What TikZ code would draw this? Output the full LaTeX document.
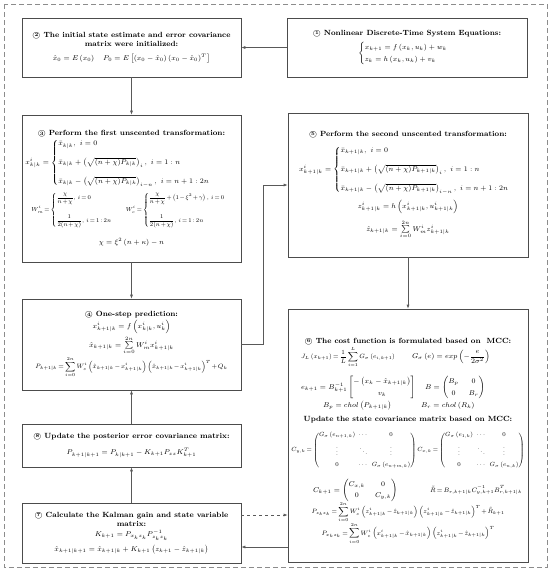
\documentclass[tikz,border=0pt]{standalone}
\usepackage{amsmath,amssymb,graphicx}
\usetikzlibrary{arrows.meta}
\relpenalty=10000
\binoppenalty=10000
\newcommand{\circno}[1]{\ooalign{\hfil\raisebox{0.25ex}{\fontsize{5}{5}\selectfont\bfseries#1}\hfil\crcr$\bigcirc$}}
\newcommand{\fitw}[2]{\resizebox{#1}{!}{\thickmuskip=3mu\medmuskip=2mu\setlength\arraycolsep{2pt}$\displaystyle #2$}}
\tikzset{stepbox/.style={draw=black!70,line width=0.6pt,align=flush center,inner sep=2pt,font=\fontsize{7.5}{9}\selectfont},
flow/.style={draw=black!65,line width=0.6pt,-{Latex[length=4pt,width=3pt]}}}
\begin{document}
\begin{tikzpicture}[x=1pt,y=-1pt]
\useasboundingbox (0,0) rectangle (550,579);
\draw[black!45,line width=0.8pt,dash pattern=on 5pt off 3pt] (4,4) rectangle (547,567);
% left column
\node[stepbox,text width=215pt,minimum height=59pt] (init) at (131.5,47.5){{\bfseries\circno{2} The initial state estimate and error covariance\\ matrix were initialized:}\\[5pt]
$\hat{x}_0 = E\left(x_0\right)\quad P_0 = E\left[\left(x_0-\hat{x}_0\right)\left(x_0-\hat{x}_0\right)^T\right]$};
\node[stepbox,text width=215pt,minimum height=147pt] (ut1) at (131.5,188.5){{\bfseries\circno{3} Perform the first unscented transformation:}\\[0pt]
\hspace*{-20pt}$x^i_{k|k} = \begin{cases}\bar{x}_{k|k},\ i=0\\[8pt] \bar{x}_{k|k}+\left(\sqrt{(n+\chi)P_{k|k}}\right)_i,\ i=1:n\\[8pt] \bar{x}_{k|k}-\left(\sqrt{(n+\chi)P_{k|k}}\right)_{i-n},\ i=n+1:2n\end{cases}$\\[4pt]
\fitw{200pt}{W^i_m = \begin{cases}\dfrac{\chi}{n+\chi},\,i=0\\[15pt] \dfrac{1}{2(n+\chi)},\,i=1:2n\end{cases}\quad W^i_c = \begin{cases}\dfrac{\chi}{n+\chi}+\left(1-\xi^2+\gamma\right),\,i=0\\[15pt] \dfrac{1}{2(n+\chi)},\,i=1:2n\end{cases}}\\[9pt]
$\chi = \xi^2\left(n+\kappa\right)-n$};
\node[stepbox,text width=215pt,minimum height=91pt] (pred) at (131.5,344.5){{\bfseries\circno{4} One-step prediction:}\\[1pt]
$x^i_{k+1|k} = f\left(x^i_{k|k},u^i_k\right)$\\[1pt]
$\hat{x}_{k+1|k} = \sum\limits_{i=0}^{2n} W^i_m x^i_{k+1|k}$\\[1pt]
\fitw{192pt}{P_{k+1|k} = \sum\limits_{i=0}^{2n} W^i_c\left(\hat{x}_{k+1|k}-x^i_{k+1|k}\right)\left(\hat{x}_{k+1|k}-x^i_{k+1|k}\right)^T+Q_k}};
\node[stepbox,text width=215pt,minimum height=43pt] (upd) at (131.5,445.5){{\bfseries\circno{8} Update the posterior error covariance matrix:}\\[7pt]
$P_{k+1|k+1} = P_{k|k+1}-K_{k+1}P_{zz}K^T_{k+1}$};
\node[stepbox,text width=215pt,minimum height=60pt] (gain) at (131.5,533){{\bfseries\circno{7} Calculate the Kalman gain and state variable\\ matrix:}\\[1pt]
$K_{k+1} = P_{x_kz_k}P^{-1}_{z_kz_k}$\\[4pt]
$\hat{x}_{k+1|k+1} = \hat{x}_{k+1|k}+K_{k+1}\left(z_{k+1}-\hat{z}_{k+1|k}\right)$};
% right column
\node[stepbox,text width=236pt,minimum height=59pt] (sys) at (407,47.5){{\bfseries\circno{1} Nonlinear Discrete-Time System Equations:}\\[4pt]
$\begin{cases}x_{k+1} = f\left(x_k,u_k\right)+w_k\\[1pt] z_k = h\left(x_k,u_k\right)+v_k\end{cases}$};
\node[stepbox,text width=236pt,minimum height=144pt] (ut2) at (408,185){{\bfseries\circno{5} Perform the second unscented transformation:}\\[6pt]
$x^i_{k+1|k} = \begin{cases}\bar{x}_{k+1|k},\ i=0\\[8pt] \bar{x}_{k+1|k}+\left(\sqrt{(n+\chi)P_{k+1|k}}\right)_i,\ i=1:n\\[8pt] \bar{x}_{k+1|k}-\left(\sqrt{(n+\chi)P_{k+1|k}}\right)_{i-n},\ i=n+1:2n\end{cases}$\\[5pt]
$z^i_{k+1|k} = h\left(x^i_{k+1|k},u^i_{k+1|k}\right)$\\[5pt]
$\hat{z}_{k+1|k} = \sum\limits_{i=0}^{2n} W^i_m z^i_{k+1|k}$};
\node[stepbox,minimum width=240pt,minimum height=253pt] (mcc) at (408,435.5){};
\node[stepbox,draw=none,text width=236pt,anchor=north] (mcctext) at ([yshift=-27pt]mcc.north){{\bfseries\circno{6} The cost function is formulated based on\ \ MCC:}\\[1pt]
\makebox[\linewidth][l]{\hspace{11pt}\makebox[111pt][l]{\fitw{94pt}{J_L\left(x_{k+1}\right) = \dfrac{1}{L}\sum\limits_{i=1}^{L} G_\sigma\left(e_{i,k+1}\right)}}$G_\sigma\left(e\right) = exp\left(-\dfrac{e}{2\sigma^2}\right)$}\\[8pt]
\makebox[\linewidth][l]{\hspace{11pt}\makebox[124pt][l]{$e_{k+1} = B^{-1}_{k+1}\begin{bmatrix}-\left(x_k-\hat{x}_{k+1|k}\right)\\[3pt] v_k\end{bmatrix}$}$B = \begin{pmatrix}B_p & 0\\[3pt] 0 & B_r\end{pmatrix}$}\\[1pt]
\makebox[\linewidth][l]{\hspace{33pt}\makebox[98pt][l]{$B_p = chol\left(P_{k+1|k}\right)$}$B_r = chol\left(R_k\right)$}\\[5pt]
{\bfseries Update the state covariance matrix based on MCC:}\\[8pt]
\fitw{233pt}{C_{y,k} = \begin{pmatrix}G_\sigma\left(e_{n+1,k}\right) & \cdots & 0\\[4pt] \vdots & \ddots & \vdots\\[4pt] 0 & \cdots & G_\sigma\left(e_{n+m,k}\right)\end{pmatrix}C_{x,k} = \begin{pmatrix}G_\sigma\left(e_{1,k}\right) & \cdots & 0\\[4pt] \vdots & \ddots & \vdots\\[4pt] 0 & \cdots & G_\sigma\left(e_{n,k}\right)\end{pmatrix}}\\[9pt]
\makebox[\linewidth][l]{\hspace{23pt}\makebox[117pt][l]{$C_{k+1} = \begin{pmatrix}C_{x,k} & 0\\[2pt] 0 & C_{y,k}\end{pmatrix}$}\fitw{92pt}{\tilde{R} = B_{r,k+1|k}C^{-1}_{y,k+1}B^T_{r,k+1|k}}}\\[-1pt]
\fitw{193pt}{P_{z_kz_k} = \sum\limits_{i=0}^{2n} W^i_c\left(z^i_{k+1|k}-\hat{z}_{k+1|k}\right)\left(z^i_{k+1|k}-\hat{z}_{k+1|k}\right)^T+\tilde{R}_{k+1}}\\[0pt]
\fitw{173pt}{P_{x_kz_k} = \sum\limits_{i=0}^{2n} W^i_c\left(x^i_{k+1|k}-\hat{x}_{k+1|k}\right)\left(z^i_{k+1|k}-\hat{z}_{k+1|k}\right)^T}};
% connectors
\draw[flow] (sys.west) -- (init.east);
\draw[flow] (init.south) -- (ut1.north);
\draw[flow] (ut1.south) -- (pred.north);
\draw[flow] (pred.east) -- ++(22,0) |- (ut2.west);
\draw[flow] (ut2.south) -- (mcc.north);
\draw[flow] (upd.north) -- (pred.south);
\draw[flow] (gain.north) -- (upd.south);
\draw[flow,dashed] ([yshift=18pt]gain.east) -- ([yshift=18pt]gain.east -| mcc.west);
\draw[flow] ([yshift=-14pt]gain.east -| mcc.west) -- ([yshift=-14pt]gain.east);
\end{tikzpicture}
\end{document}
